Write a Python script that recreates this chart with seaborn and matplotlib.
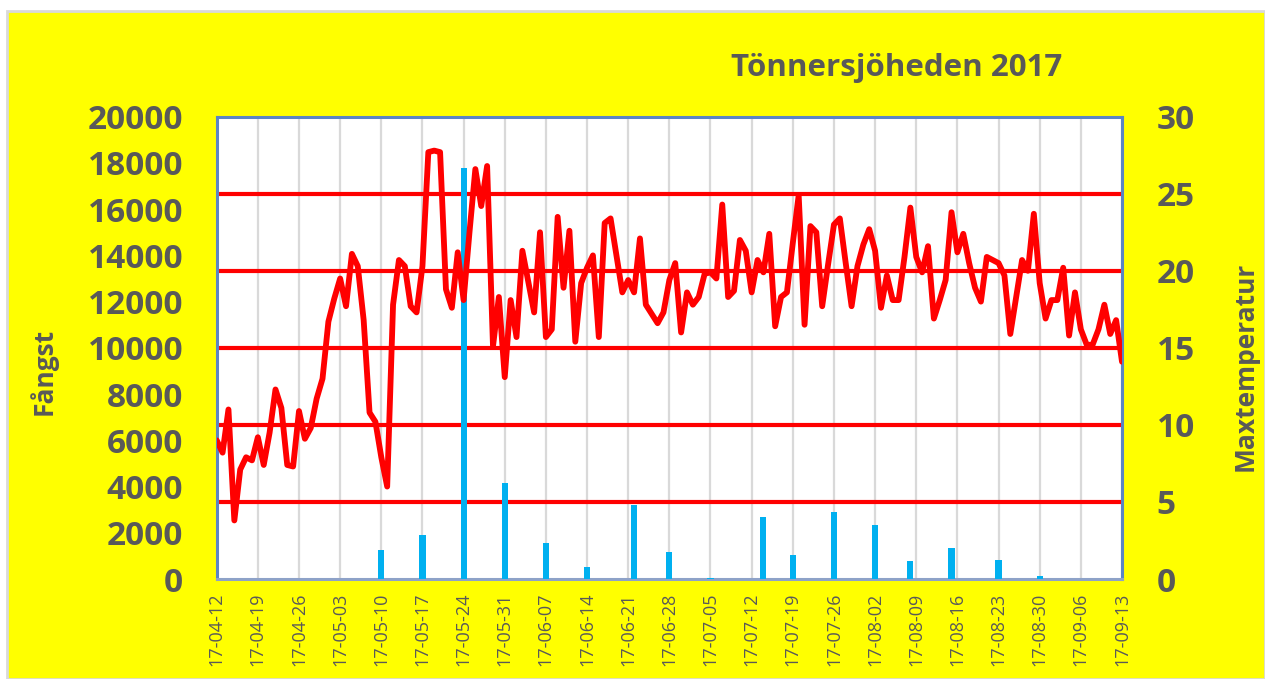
import numpy as np
import pandas as pd
import matplotlib
matplotlib.use("Agg")
import matplotlib.pyplot as plt
import matplotlib.dates as mdates
import matplotlib.transforms as mtransforms
from matplotlib.patches import Rectangle
import seaborn as sns

# ---------------- data ----------------
start_date = "2017-04-12"
end_date = "2017-09-13"

max_temp = [
    9.0, 8.2, 11.0, 3.8, 7.1, 7.9, 7.7, 9.2, 7.4, 9.5,
    12.3, 11.1, 7.4, 7.3, 10.9, 9.1, 9.8, 11.7, 13.0, 16.7,
    18.2, 19.5, 17.7, 21.1, 20.3, 16.8, 10.8, 10.2, 7.9, 6.0,
    17.8, 20.7, 20.3, 17.7, 17.3, 20.3, 27.7, 27.8, 27.7, 18.8,
    17.6, 21.2, 18.1, 22.5, 26.6, 24.2, 26.8, 15.1, 18.3, 13.1,
    18.1, 15.7, 21.3, 19.3, 17.3, 22.5, 15.7, 16.2, 23.5, 18.9,
    22.6, 15.4, 19.2, 20.2, 21.0, 15.7, 23.1, 23.4, 21.0, 18.6,
    19.4, 18.6, 22.1, 17.8, 17.2, 16.6, 17.3, 19.4, 20.5, 16.0,
    18.6, 17.8, 18.3, 19.8, 19.9, 19.5, 24.3, 18.3, 18.7, 22.0,
    21.3, 18.6, 20.7, 19.9, 22.4, 16.4, 18.3, 18.6, 21.8, 24.9,
    16.5, 22.9, 22.5, 17.7, 20.4, 23.0, 23.4, 20.5, 17.7, 20.3,
    21.7, 22.7, 21.3, 17.6, 19.7, 18.1, 18.1, 20.9, 24.1, 20.9,
    19.9, 21.6, 16.9, 18.1, 19.4, 23.8, 21.2, 22.4, 20.5, 18.9,
    18.0, 20.9, 20.7, 20.5, 19.7, 15.9, 18.3, 20.7, 20.0, 23.7,
    19.2, 16.9, 18.1, 18.1, 20.2, 15.8, 18.6, 16.2, 15.2, 15.2,
    16.2, 17.8, 15.9, 16.8, 14.1,
]

catch_dates = [
    "2017-04-19", "2017-04-26", "2017-05-03", "2017-05-10", "2017-05-17",
    "2017-05-24", "2017-05-31", "2017-06-07", "2017-06-14", "2017-06-22",
    "2017-06-28", "2017-07-05", "2017-07-14", "2017-07-19", "2017-07-26",
    "2017-08-02", "2017-08-08", "2017-08-15", "2017-08-23", "2017-08-30",
    "2017-09-06",
]
catch_values = [
    15, 15, 15, 1250, 1900,
    17800, 4170, 1560, 520, 3200,
    1170, 60, 2690, 1040, 2900,
    2340, 780, 1340, 820, 120,
    15,
]

left_ticks = list(range(0, 20001, 2000))
right_ticks = list(range(0, 31, 5))
title = "Tönnersjöheden 2017"
left_label = "Fångst"
right_label = "Maxtemperatur"

# ---------------- style ----------------
sns.set_style("white")
plt.rcParams["font.family"] = ["Open Sans", "DejaVu Sans"]

TEXT = "#595959"
YELLOW = "#FFFF00"
BLUE_BAR = "#00B0F0"
FRAME = "#5B84C4"

fig = plt.figure(figsize=(12.65, 6.79), dpi=100)
fig.patch.set_facecolor("white")
fig.patches.append(Rectangle((7 / 1265, 0), 1 - 7 / 1265, 1 - 11 / 679,
                             transform=fig.transFigure, facecolor=YELLOW,
                             edgecolor="#D9D9D9", linewidth=2, zorder=-10))

ax = fig.add_axes([216.7 / 1265, 1 - 579 / 679, (1122 - 216.7) / 1265, (579 - 116.7) / 679])
ax.set_facecolor("white")
ax2 = ax.twinx()

days = pd.date_range(start_date, end_date, freq="D")
temp_df = pd.DataFrame({"date": days, "temp": max_temp})
catch_df = pd.DataFrame({"date": pd.to_datetime(catch_dates), "catch": catch_values})

# bars (Fångst)
ax.bar(mdates.date2num(catch_df["date"]), catch_df["catch"], width=1.05,
       color=BLUE_BAR, linewidth=0, zorder=3)

# temperature line
sns.lineplot(data=temp_df, x="date", y="temp", ax=ax2, color="#FF0000",
             linewidth=4.2, zorder=5)

ax.set_xlim(mdates.date2num(pd.Timestamp(start_date)), mdates.date2num(pd.Timestamp(end_date)))
ax.set_ylim(left_ticks[0], left_ticks[-1])
ax2.set_ylim(right_ticks[0], right_ticks[-1])

# weekly vertical gridlines
weeks = pd.date_range(start_date, end_date, freq="7D")
ax.set_xticks(mdates.date2num(weeks))
ax.set_xticklabels([d.strftime("%y-%m-%d") for d in weeks], rotation=90,
                   fontsize=13, color=TEXT)
ax.grid(axis="x", color="#D9D9D9", linewidth=1.6, zorder=0)
ax.grid(axis="y", visible=False)
ax2.grid(False)
ax.set_axisbelow(True)

# red horizontal gridlines from the right (temperature) axis, drawn under bars
trans = mtransforms.blended_transform_factory(ax.transAxes, ax2.transData)
ax.hlines(right_ticks[1:-1], 0, 1, transform=trans, color="#FF0000",
          linewidth=3.0, zorder=2)

ax.set_yticks(left_ticks)
ax.set_yticklabels([str(v) for v in left_ticks], fontsize=24, fontweight="bold", color=TEXT)
ax2.set_yticks(right_ticks)
ax2.set_yticklabels([str(v) for v in right_ticks], fontsize=24, fontweight="bold", color=TEXT)

ax.tick_params(axis="y", length=0, pad=24)
ax.tick_params(axis="x", length=0, pad=10)
ax2.tick_params(axis="y", length=0, pad=25)

ax.set_xlabel("")
ax2.set_xlabel("")
ax.set_ylabel(left_label, fontsize=19, fontweight="bold", color=TEXT)
ax.yaxis.set_label_coords(-0.176, 0.45)
ax2.set_ylabel(right_label, fontsize=19, fontweight="bold", color=TEXT, rotation=90)
ax2.yaxis.set_label_coords(1.121, 0.459)

for s in ["left", "top", "right"]:
    ax.spines[s].set_visible(True)
    ax.spines[s].set_color(FRAME)
    ax.spines[s].set_linewidth(2.2)
ax.spines["bottom"].set_color("#8EA2C8")
ax.spines["bottom"].set_linewidth(2.2)
for s in ax2.spines.values():
    s.set_visible(False)

fig.text(897 / 1265, 1 - 68 / 679, title, fontsize=22.5, fontweight="bold",
         color=TEXT, ha="center", va="center")

fig.savefig("out.png", dpi=100)
